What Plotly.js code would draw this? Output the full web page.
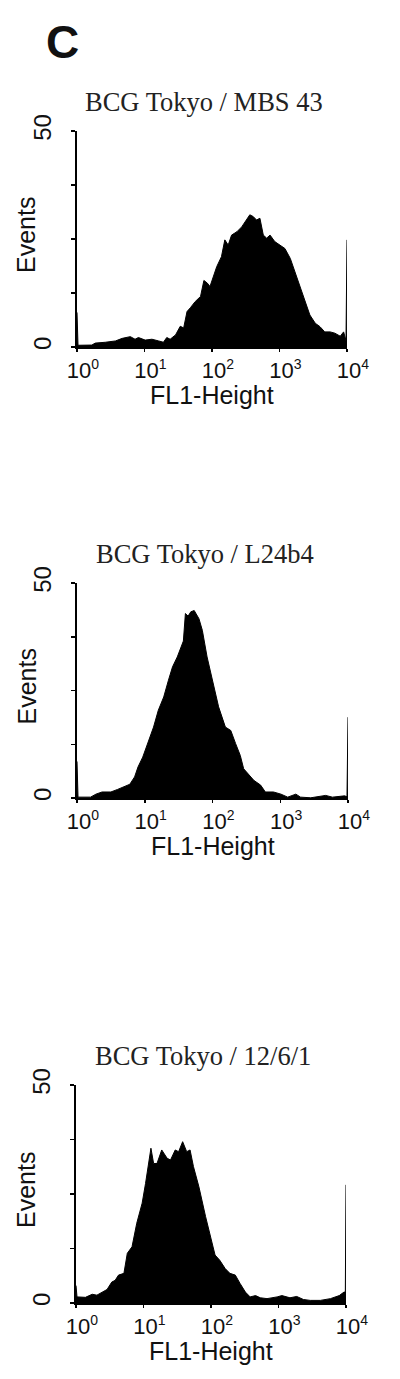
<!DOCTYPE html>
<html>
<head>
<meta charset="utf-8">
<script src="https://cdn.plot.ly/plotly-3.0.1.min.js"></script>
<style>
  html, body { margin: 0; padding: 0; background: #fff; }
  #plot { width: 400px; height: 1379px; }
</style>
</head>
<body>
<div id="plot"></div>
<script>
// FL1 channel positions are given as log10 exponents, counts as events
var titles = ['BCG Tokyo / MBS 43', 'BCG Tokyo / L24b4', 'BCG Tokyo / 12/6/1'];

var fl1Exp1 = [0, 0.015, 0.22, 0.27, 0.42, 0.57, 0.67, 0.79, 0.86, 0.91, 1.01, 1.11, 1.21, 1.28, 1.33, 1.38, 1.46,
    1.53, 1.58, 1.63, 1.68, 1.75, 1.83, 1.88, 1.93, 1.97, 2.07, 2.14, 2.19, 2.24, 2.29, 2.37, 2.44, 2.51, 2.56,
    2.61, 2.66, 2.71, 2.76, 2.81, 2.86, 2.93, 3.01, 3.08, 3.16, 3.25, 3.35, 3.45, 3.53, 3.60, 3.67, 3.75, 3.82,
    3.90, 3.95, 3.985, 4.0];
var events1 = [8, 0.4, 0.45, 0.9, 1.1, 1.4, 2.0, 2.4, 1.8, 2.2, 1.6, 1.8, 1.4, 1.1, 2.2, 1.8, 2.8,
    4.8, 4.4, 8.2, 9.1, 10.5, 11.7, 15.4, 14.8, 14.0, 18.6, 20.9, 24.8, 23.6, 25.9, 26.7, 27.8, 29.4, 30.6,
    30.2, 29.4, 29.8, 25.9, 25.2, 25.9, 24.4, 23.6, 22.8, 20.5, 16.3, 11.6, 7.4, 5.5, 4.7, 3.5, 3.5, 3.2,
    2.5, 3.5, 1.5, 24.8];

var fl1Exp2 = [0, 0.015, 0.2, 0.28, 0.37, 0.5, 0.6, 0.7, 0.78, 0.85, 0.9, 0.97, 1.06, 1.13, 1.2, 1.28, 1.35,
    1.41, 1.48, 1.53, 1.57, 1.60, 1.64, 1.68, 1.73, 1.80, 1.85, 1.92, 1.97, 2.04, 2.09, 2.19, 2.27, 2.34, 2.41,
    2.46, 2.54, 2.61, 2.71, 2.78, 2.90, 3.01, 3.11, 3.23, 3.30, 3.45, 3.67, 3.77, 3.95, 3.985, 4.0];
var events2 = [8.5, 0.2, 0.2, 0.9, 1.4, 1.4, 2.0, 2.7, 3.2, 4.9, 7.2, 9.5, 13.4, 16.5, 20.4, 23.5, 27.4,
    30.5, 32.8, 35.1, 36.5, 42.9, 42.3, 43.3, 43.6, 41.7, 39.0, 32.8, 29.3, 24.3, 21.2, 16.5, 15.7, 12.7, 9.9,
    6.8, 5.3, 4.1, 3.0, 1.4, 1.4, 0.9, 0.2, 0.9, 0.2, 0.05, 0.6, 0.2, 0.5, 0.3, 18.8];

var fl1Exp3 = [0, 0.015, 0.14, 0.24, 0.31, 0.39, 0.46, 0.53, 0.58, 0.63, 0.71, 0.76, 0.83, 0.90, 0.98, 1.03,
    1.08, 1.11, 1.15, 1.20, 1.27, 1.35, 1.40, 1.47, 1.52, 1.58, 1.64, 1.69, 1.74, 1.82, 1.92, 1.99, 2.06, 2.13,
    2.21, 2.28, 2.36, 2.43, 2.51, 2.58, 2.66, 2.73, 2.83, 2.98, 3.05, 3.17, 3.27, 3.37, 3.47, 3.62, 3.77, 3.90,
    3.97, 3.99, 4.0];
var events3 = [4, 1.4, 1.3, 2.0, 1.8, 2.5, 3.1, 4.8, 5.2, 6.4, 6.8, 11.4, 12.9, 18.3, 22.9, 27.4,
    32.8, 35.5, 32.0, 32.0, 35.1, 33.2, 32.8, 35.1, 34.7, 37.0, 34.7, 35.1, 31.3, 26.7, 19.8, 15.6, 11.0, 9.8,
    7.9, 6.8, 6.4, 4.5, 2.5, 1.4, 1.7, 1.2, 1.0, 1.4, 1.7, 1.2, 1.5, 0.8, 0.6, 0.6, 1.0, 1.7,
    2.5, 2.5, 27.1];

var xTickVals = [1, 10, 100, 1000, 10000];
var xTickExp = ['0', '1', '2', '3', '4'];
var yTickVals = [0, 12.5, 25, 37.5, 50];
var yTickText = ['0', '', '', '', '50'];

var xTickText = xTickExp.map(function (n) {
    return '10<sup><span style="font-size:14px">' + n + '</span></sup>';
});

var W = 400, H = 1379;
function px(p) { return p / W; }
function py(p) { return 1 - p / H; }

// pixel boxes of the three panels: [left, right, top, bottom]
var boxes = [[77, 347, 131, 347], [77, 348, 583, 798], [76, 346, 1085, 1303]];
var exps = [fl1Exp1, fl1Exp2, fl1Exp3];
var counts = [events1, events2, events3];

var data = [];
var layout = {
    width: W, height: H,
    margin: {l: 0, r: 0, t: 0, b: 0},
    paper_bgcolor: '#fff',
    plot_bgcolor: 'rgba(0,0,0,0)',
    showlegend: false,
    font: {family: 'Liberation Sans, Arial, sans-serif', color: '#111'},
    annotations: [{
        text: '<b>C</b>', xref: 'paper', yref: 'paper', x: px(62), y: py(42),
        xanchor: 'center', yanchor: 'middle', showarrow: false,
        font: {family: 'Liberation Sans, Arial, sans-serif', size: 46, color: '#111'}
    }]
};

for (var i = 0; i < 3; i++) {
    var b = boxes[i];
    var sfx = i === 0 ? '' : String(i + 1);
    data.push({
        type: 'scatter',
        mode: 'lines',
        x: exps[i].map(function (e) { return Math.pow(10, e); }),
        y: counts[i],
        xaxis: 'x' + sfx,
        yaxis: 'y' + sfx,
        fill: 'tozeroy',
        fillcolor: '#000',
        line: {color: '#000', width: 1},
        hoverinfo: 'skip'
    });

    layout['xaxis' + sfx] = {
        type: 'log',
        domain: [px(b[0]), px(b[1])],
        anchor: 'y' + sfx,
        range: [0, 4],
        showgrid: false, zeroline: false,
        showline: true, linecolor: '#000', linewidth: 2,
        ticks: 'outside', ticklen: 3, tickwidth: 1.5, tickcolor: '#000',
        tickvals: xTickVals, ticktext: xTickText,
        ticklabelshift: 6,
        tickfont: {size: 22, color: '#111'},
        fixedrange: true
    };
    layout['yaxis' + sfx] = {
        domain: [py(b[3]), py(b[2])],
        anchor: 'x' + sfx,
        range: [0, 50],
        showgrid: false, zeroline: false,
        showline: true, linecolor: '#000', linewidth: 2,
        ticks: 'outside', ticklen: 4, tickwidth: 1.5, tickcolor: '#000',
        tickvals: yTickVals, ticktext: yTickText,
        tickangle: -90,
        ticklabelstandoff: 10,
        tickfont: {size: 24, color: '#111'},
        fixedrange: true
    };

    var cx = (b[0] + b[1]) / 2;
    layout.annotations.push({
        text: titles[i], xref: 'paper', yref: 'paper',
        x: px(cx - 8), y: py(b[2] - 29),
        xanchor: 'center', yanchor: 'middle', showarrow: false,
        font: {family: 'Liberation Serif, Times New Roman, serif', size: 26.5, color: '#222'}
    });
    layout.annotations.push({
        text: 'Events', xref: 'paper', yref: 'paper',
        x: px(26), y: py((b[2] + b[3]) / 2 - 4),
        xanchor: 'center', yanchor: 'middle', textangle: -90, showarrow: false,
        font: {size: 25, color: '#111'}
    });
    layout.annotations.push({
        text: 'FL1-Height', xref: 'paper', yref: 'paper',
        x: px(cx), y: py(b[3] + 48),
        xanchor: 'center', yanchor: 'middle', showarrow: false,
        font: {size: 25, color: '#111'}
    });
}

Plotly.newPlot('plot', data, layout, {displayModeBar: false, staticPlot: true});
</script>
</body>
</html>
